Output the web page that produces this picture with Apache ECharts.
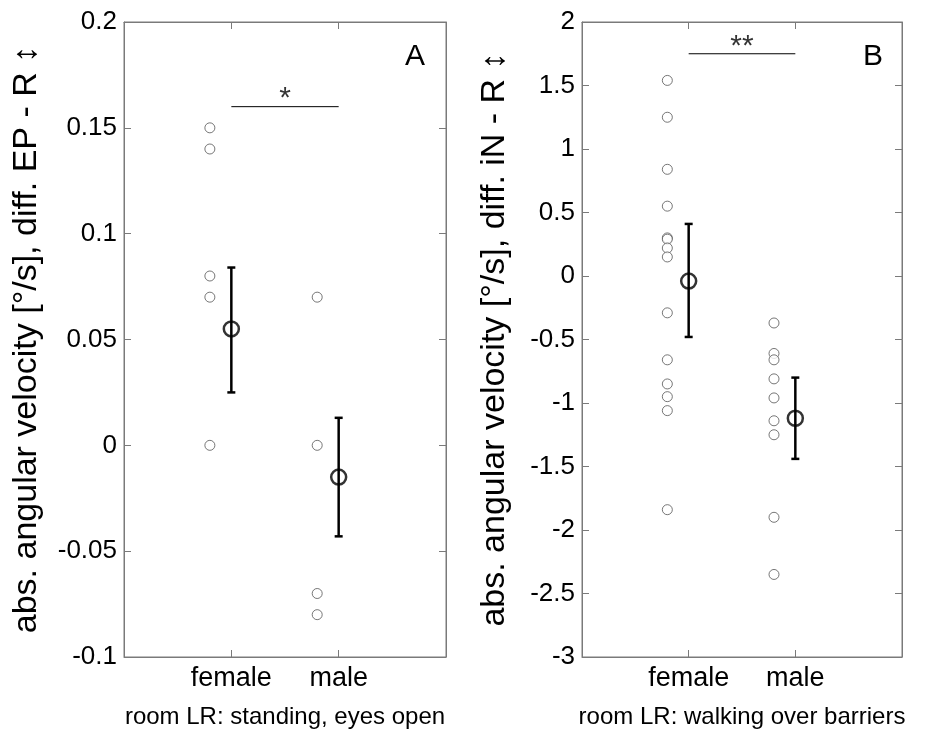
<!DOCTYPE html>
<html>
<head>
<meta charset="utf-8">
<script src="https://cdn.jsdelivr.net/npm/echarts@6/dist/echarts.min.js"></script>
<style>
  html, body { margin: 0; padding: 0; background: #fff; }
  #chart { width: 930px; height: 736px; }
</style>
</head>
<body>
<div id="chart"></div>
<script>
  // groups on the x axis (positions 1 and 2)
  var categories = ['female', 'male'];

  // panel A: room LR, standing, eyes open
  var aFemale = [0.15, 0.14, 0.08, 0.07, 0.00];
  var aMale = [0.07, 0.00, -0.07, -0.08];
  var aMean = [0.055, -0.015];
  var aLow = [0.025, -0.043];
  var aHigh = [0.084, 0.013];
  var aSig = 0.16;

  // panel B: room LR, walking over barriers
  var bFemale = [1.54, 1.25, 0.84, 0.55, 0.30, 0.29, 0.22, 0.15, -0.29, -0.66, -0.85, -0.95, -1.06, -1.84];
  var bMale = [-0.37, -0.61, -0.66, -0.81, -0.96, -1.14, -1.25, -1.90, -2.35];
  var bMean = [-0.04, -1.12];
  var bLow = [-0.48, -1.44];
  var bHigh = [0.41, -0.80];
  var bSig = 1.75;

  var pointShift = -0.2; // single values drawn a bit left of the mean
  var font = "'Liberation Sans', Arial, Helvetica, sans-serif";
  var axisGrey = '#7a7a7a';

  function points(vals, cat) {
    return vals.map(function (v) { return [cat + pointShift, v]; });
  }

  function errRender(params, api) {
    var x = api.value(0);
    var lo = api.coord([x, api.value(1)]);
    var hi = api.coord([x, api.value(2)]);
    var c = 4;
    var st = { stroke: '#000', lineWidth: 2.5 };
    return {
      type: 'group',
      children: [
        { type: 'line', shape: { x1: lo[0], y1: lo[1], x2: hi[0], y2: hi[1] }, style: st },
        { type: 'line', shape: { x1: lo[0] - c, y1: lo[1], x2: lo[0] + c, y2: lo[1] }, style: st },
        { type: 'line', shape: { x1: hi[0] - c, y1: hi[1], x2: hi[0] + c, y2: hi[1] }, style: st }
      ]
    };
  }

  function xAxes(grid, title) {
    return [{
      type: 'value', gridIndex: grid, position: 'bottom', min: 0, max: 3, interval: 1,
      axisLine: { onZero: false, lineStyle: { color: axisGrey } },
      axisTick: { inside: true, length: 7, customValues: [1, 2], lineStyle: { color: axisGrey } },
      axisLabel: {
        customValues: [1, 2], margin: 8, color: '#000', fontSize: 27, fontFamily: font,
        formatter: function (v) { return categories[v - 1] || ''; }
      },
      splitLine: { show: false },
      name: title, nameLocation: 'middle', nameGap: 48,
      nameTextStyle: { color: '#000', fontSize: 24, fontFamily: font }
    }, {
      type: 'value', gridIndex: grid, position: 'top', min: 0, max: 3, interval: 1,
      axisLine: { onZero: false, lineStyle: { color: axisGrey } },
      axisTick: { inside: true, length: 7, customValues: [1, 2], lineStyle: { color: axisGrey } },
      axisLabel: { show: false },
      splitLine: { show: false }
    }];
  }

  function yAxes(grid, min, max, step, title, gap) {
    return [{
      type: 'value', gridIndex: grid, position: 'left', min: min, max: max, interval: step,
      axisLine: { show: true, onZero: false, lineStyle: { color: axisGrey } },
      axisTick: { show: true, inside: true, length: 7, lineStyle: { color: axisGrey } },
      axisLabel: { color: '#000', fontSize: 26, fontFamily: font, margin: 7 },
      splitLine: { show: false },
      name: title, nameLocation: 'middle', nameGap: gap,
      nameTextStyle: { color: '#000', fontSize: 34, fontFamily: font }
    }, {
      type: 'value', gridIndex: grid, position: 'right', min: min, max: max, interval: step,
      axisLine: { show: true, onZero: false, lineStyle: { color: axisGrey } },
      axisTick: { show: true, inside: true, length: 7, lineStyle: { color: axisGrey } },
      axisLabel: { show: false },
      splitLine: { show: false }
    }];
  }

  function panelSeries(xi, yi, female, male, mean, low, high, sig, stars) {
    var raw = {
      type: 'scatter', xAxisIndex: xi, yAxisIndex: yi, symbol: 'circle', symbolSize: 10,
      itemStyle: { color: '#fff', borderColor: '#555', borderWidth: 1 },
      silent: true, z: 2
    };
    return [
      Object.assign({}, raw, { data: points(female, 1) }),
      Object.assign({}, raw, { data: points(male, 2) }),
      {
        type: 'custom', xAxisIndex: xi, yAxisIndex: yi, renderItem: errRender,
        encode: { x: 0, y: [1, 2] }, silent: true, z: 3,
        data: [[1, low[0], high[0]], [2, low[1], high[1]]]
      },
      {
        type: 'scatter', xAxisIndex: xi, yAxisIndex: yi, symbol: 'circle', symbolSize: 15,
        itemStyle: { color: 'rgba(255,255,255,0)', borderColor: '#000', borderWidth: 2.5 },
        silent: true, z: 4,
        data: [[1, mean[0]], [2, mean[1]]]
      },
      {
        type: 'line', xAxisIndex: xi, yAxisIndex: yi, symbol: 'none', silent: true,
        lineStyle: { color: '#000', width: 1 },
        data: [[1, sig], [2, sig]]
      },
      {
        type: 'scatter', xAxisIndex: xi, yAxisIndex: yi, symbolSize: 1, silent: true,
        itemStyle: { color: 'rgba(0,0,0,0)' },
        label: { show: true, position: 'top', distance: -8, formatter: stars, color: '#000', fontSize: 30, fontFamily: font },
        data: [[1.5, sig]]
      }
    ];
  }

  var chart = echarts.init(document.getElementById('chart'));
  chart.setOption({
    animation: false,
    backgroundColor: '#fff',
    grid: [
      { left: 124, top: 22, width: 322, height: 635, show: true, borderColor: axisGrey, borderWidth: 1 },
      { left: 582, top: 22, width: 320, height: 635, show: true, borderColor: axisGrey, borderWidth: 1 }
    ],
    xAxis: xAxes(0, 'room LR: standing, eyes open').concat(xAxes(1, 'room LR: walking over barriers')),
    yAxis: yAxes(0, -0.1, 0.2, 0.05, 'abs. angular velocity [°/s], diff. EP - R ↕', 80)
      .concat(yAxes(1, -3, 2, 0.5, 'abs. angular velocity [°/s], diff. iN - R ↕', 70)),
    graphic: [
      { type: 'text', left: 405, top: 42, style: { text: 'A', fontSize: 30, fontFamily: font, fill: '#000' } },
      { type: 'text', left: 863, top: 42, style: { text: 'B', fontSize: 30, fontFamily: font, fill: '#000' } }
    ],
    series: panelSeries(0, 0, aFemale, aMale, aMean, aLow, aHigh, aSig, '*')
      .concat(panelSeries(2, 2, bFemale, bMale, bMean, bLow, bHigh, bSig, '**'))
  });
</script>
</body>
</html>
